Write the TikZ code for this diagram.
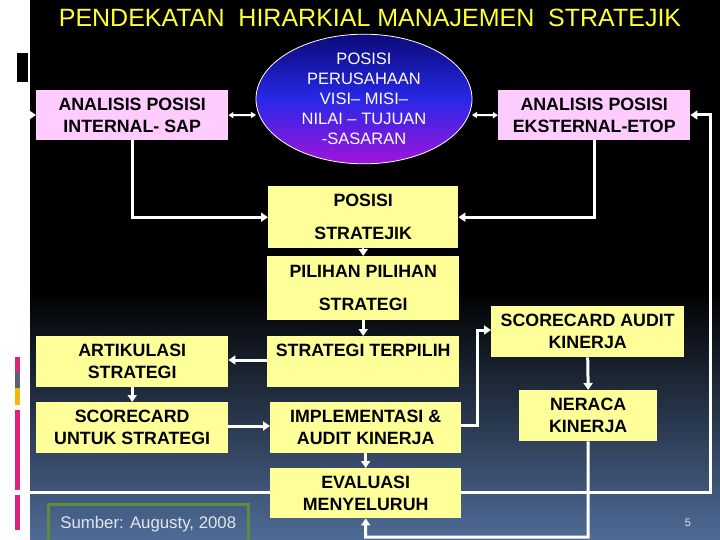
\documentclass[tikz,border=0pt]{standalone}
\usepackage{fontspec}
\setmainfont{Liberation Sans}
\usetikzlibrary{shapes.geometric,arrows.meta}
\definecolor{pinkbox}{HTML}{FFCCFF}
\definecolor{yelbox}{HTML}{FFFF99}
\definecolor{bgblue}{HTML}{4F6B96}
\definecolor{titley}{HTML}{FFFF33}
\definecolor{barpink}{HTML}{E0237A}
\definecolor{bargray}{HTML}{5A6270}
\definecolor{barorange}{HTML}{F5B800}
\definecolor{sgreen}{HTML}{5E8C3E}
\begin{document}
\begin{tikzpicture}[x=1pt,y=-1pt,
  txt/.style={font=\fontsize{17.8}{22}\selectfont\bfseries, align=center, text=black, inner sep=0pt},
  pbox/.style={txt, fill=pinkbox, anchor=north west},
  ybox/.style={txt, fill=yelbox, anchor=north west},
  conn/.style={draw=white, line width=3pt, -{Triangle[length=7pt,width=9pt]}},
  dconn/.style={draw=white, line width=2pt, {Triangle[length=5pt,width=6pt]}-{Triangle[length=5pt,width=6pt]}}]
\useasboundingbox (0,0) rectangle (720,540);
\fill[white] (0,0) rectangle (720,540);
\fill[black] (30,0) rectangle (720,290);
\shade[top color=black, bottom color=bgblue] (30,290) rectangle (720,540);
\fill[black] (17,53) rectangle (28,82);
\fill[barpink] (15,357) rectangle (20,372);
\fill[bargray] (15,372) rectangle (20,388);
\fill[barorange] (15,388) rectangle (20,405);
\fill[barpink] (15,410) rectangle (20,490);
\fill[barpink] (15,495) rectangle (20,530);
\node[text=titley, font=\fontsize{25}{28}\selectfont] (title) at (370,18) {PENDEKATAN\ \ HIRARKIAL MANAJEMEN\ \ STRATEJIK};
% nodes
\node[pbox, minimum width=192, minimum height=50] (int) at (36,90) {ANALISIS POSISI\\INTERNAL- SAP};
\node[pbox, minimum width=192, minimum height=50] (ext) at (498,90) {ANALISIS POSISI\\EKSTERNAL-ETOP};
\node[ellipse, draw=white, thick, minimum width=216, minimum height=102, inner sep=0pt,
  top color={rgb,255:red,10;green,10;blue,120}, bottom color={rgb,255:red,160;green,20;blue,220},
  middle color={rgb,255:red,40;green,40;blue,230},
  font=\fontsize{16.5}{20}\selectfont, text=white, align=center] (pos) at (364,99)
  {POSISI\\PERUSAHAAN\\VISI-- MISI--\\NILAI -- TUJUAN\\-SASARAN};
\node[ybox, minimum width=190, minimum height=62, font=\fontsize{17.8}{33}\selectfont\bfseries] (ps) at (268,186) {POSISI\\STRATEJIK};
\node[ybox, minimum width=192, minimum height=64, font=\fontsize{17.8}{33}\selectfont\bfseries] (pil) at (267,256) {PILIHAN PILIHAN\\STRATEGI};
\node[ybox, minimum width=192, minimum height=51] (ter) at (267,336) {STRATEGI TERPILIH\\\mbox{}};
\node[ybox, minimum width=192, minimum height=51] (art) at (36,336) {ARTIKULASI\\STRATEGI};
\node[ybox, minimum width=192, minimum height=51] (sc) at (36,402) {SCORECARD\\UNTUK STRATEGI};
\node[ybox, minimum width=191, minimum height=51] (imp) at (270,402) {IMPLEMENTASI \&\\AUDIT KINERJA};
\node[ybox, minimum width=191, minimum height=50] (eva) at (270,468) {EVALUASI\\MENYELURUH};
\node[ybox, minimum width=193, minimum height=51] (sca) at (491,306) {SCORECARD AUDIT\\KINERJA};
\node[ybox, minimum width=138, minimum height=51] (ner) at (519,390) {NERACA\\KINERJA};
\node[draw=sgreen, line width=2.5pt, anchor=north west, minimum width=200, minimum height=40,
  text={rgb,255:red,225;green,230;blue,240}, font=\fontsize{16.8}{19}\selectfont] (src) at (47,503) {Sumber: Augusty, 2008};
\node[text={rgb,255:red,225;green,230;blue,240}, font=\fontsize{11}{13}\selectfont] (pg) at (688,523) {5};
% coordinates
\coordinate (lt) at (22,115);
\coordinate (lb) at (22,492);
\coordinate (rt) at (710,115);
\coordinate (rb) at (710,492);
\coordinate (pw) at (256,115);
\coordinate (pe) at (472,115);
% connectors
\draw[dconn] (int.east) -- (pw);
\draw[dconn] (pe) -- (ext.west);
\draw[conn] (int.south) |- (ps.west);
\draw[conn] (ext.south) |- (ps.east);
\draw[conn, line width=2pt] (ps.south) -- (pil.north);
\draw[conn] (pil.south) -- (ter.north);
\draw[conn] (ter.west |- 0,360) -- (art.east |- 0,360);
\draw[conn] (art.south) -- (sc.north);
\draw[conn] (sc.east |- 0,426) -- (imp.west |- 0,426);
\draw[conn] (imp.south) -- (eva.north);
\draw[conn] (imp.east |- 0,425) -- (477,425) |- (sca.west |- 0,330);
\draw[conn] (sca.south) -- (ner.north);
\draw[conn] (ner.south) -- (588,537) -| (eva.south);
\draw[conn] (eva.west |- lb) -- (lb) -- (lt) -- (int.west |- lt);
\draw[conn] (eva.east |- rb) -- (rb) -- (rt) -- (ext.east |- rt);
\end{tikzpicture}
\end{document}
